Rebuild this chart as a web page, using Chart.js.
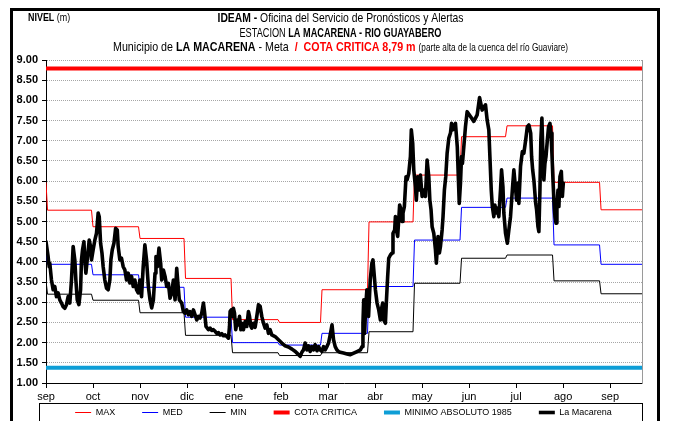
<!DOCTYPE html>
<html>
<head>
<meta charset="utf-8">
<script src="https://cdn.jsdelivr.net/npm/chart.js@4.4.1/dist/chart.umd.min.js"></script>
<style>
  body { margin: 0; background: #fff; }
  canvas { display: block; }
</style>
</head>
<body>
<canvas id="chart" width="675" height="421"></canvas>
<script>
const monthLabels = ['sep', 'oct', 'nov', 'dic', 'ene', 'feb', 'mar', 'abr', 'may', 'jun', 'jul', 'ago', 'sep'];

// monthly reference levels: ago (previous year), then sep ... sep
const maxLevels = [5.97, 5.28, 4.87, 4.58, 3.59, 2.57, 2.50, 3.31, 4.99, 6.15, 7.10, 7.37, 5.97, 5.29];
const medLevels = [4.42, 3.94, 3.68, 3.37, 2.63, 2.00, 1.94, 2.23, 3.39, 4.54, 5.35, 5.58, 4.42, 3.94];
const minLevels = [3.53, 3.20, 3.05, 2.74, 2.18, 1.75, 1.68, 1.75, 2.27, 3.47, 4.09, 4.17, 3.53, 3.21];

const cotaCritica = 8.79;
const minimoAbsoluto = 1.38;

// La Macarena daily readings (days counted from 31 ago)
const obsDays = [
  0, 1.4, 2.1, 2.5, 3.6, 4.7, 5.8, 6.9, 8.0, 9.1, 10.2, 11.3, 12.4, 13.5, 14.6, 15.7, 16.8, 17.9, 19.0, 19.7,
  20.6, 21.7, 22.8, 23.4, 24.1, 25.0, 25.6, 26.3, 27.4, 28.5, 29.4, 30.0, 31.1, 32.2, 33.3, 34.4, 35.1, 36.0, 36.9, 37.7,
  38.8, 39.9, 41.0, 42.1, 42.8, 43.7, 44.8, 45.9, 47.0, 47.6, 48.7, 49.8, 50.9, 52.0, 53.1, 54.2, 55.3, 56.4, 57.5, 58.6,
  59.7, 60.8, 61.9, 63.0, 64.1, 65.2, 66.3, 67.5, 68.6, 69.7, 70.8, 71.9, 72.5, 73.4, 74.5, 75.6, 76.3, 77.4, 78.5, 79.6,
  80.7, 81.8, 82.9, 84.0, 85.1, 86.2, 86.8, 87.9, 89.5, 90.6, 91.7, 92.8, 93.9, 95.0, 96.1, 97.2, 98.3, 99.4, 100.5, 101.6,
  102.7, 103.8, 104.5, 105.5, 107.1, 108.2, 109.3, 110.4, 111.5, 112.6, 113.7, 114.8, 115.9, 117.0, 118.1, 119.2, 120.3, 121.0, 121.4, 122.1,
  122.9, 123.6, 124.3, 125.1, 126.2, 126.9, 127.6, 128.5, 129.1, 130.2, 131.3, 132.4, 133.5, 134.2, 135.1, 135.7, 136.8, 137.9, 139.0, 140.1,
  141.2, 142.3, 143.4, 144.5, 145.6, 146.7, 147.8, 148.9, 151.1, 153.3, 155.5, 157.7, 159.9, 162.2, 164.4, 165.5, 166.6, 167.6, 168.7, 169.8,
  170.9, 172.0, 173.1, 174.2, 175.3, 176.4, 177.5, 178.7, 179.8, 180.8, 181.9, 183.0, 184.1, 185.2, 186.3, 187.4, 188.6, 189.6, 190.7, 191.8,
  192.9, 194.0, 196.2, 198.5, 200.7, 202.9, 205.1, 207.3, 208.4, 209.0, 209.5, 210.1, 210.8, 211.6, 212.7, 213.8, 214.9, 215.6, 216.5, 217.2,
  218.3, 219.4, 220.5, 221.1, 222.0, 222.7, 223.8, 224.4, 225.3, 226.0, 227.1, 228.2, 228.8, 229.9, 230.4, 231.0, 231.9, 233.2, 234.1, 234.8,
  235.4, 236.3, 237.4, 238.1, 239.2, 240.3, 240.9, 241.8, 242.5, 243.6, 244.2, 245.1, 246.0, 246.9, 248.0, 249.1, 250.2, 251.3, 252.4, 253.1,
  253.9, 254.6, 255.7, 256.8, 257.4, 258.5, 259.4, 260.1, 261.2, 261.8, 262.7, 263.6, 264.5, 265.6, 266.7, 267.4, 268.3, 268.9, 270.0, 271.2,
  271.8, 272.5, 273.3, 274.0, 274.6, 276.6, 277.7, 279.9, 282.1, 284.3, 285.9, 287.6, 289.8, 290.9, 292.0, 292.7, 293.6, 294.3, 295.3, 296.0,
  296.9, 297.6, 298.6, 299.7, 300.4, 301.3, 301.9, 303.0, 304.2, 305.2, 306.3, 307.5, 308.5, 309.7, 310.3, 311.2, 311.8, 312.9, 314.1, 315.1,
  316.3, 317.4, 318.4, 319.6, 320.2, 320.9, 321.7, 322.9, 323.5, 324.4, 325.0, 325.7, 326.3, 327.0, 327.7, 328.3, 329.0, 329.7, 330.6, 331.4,
  332.3, 333.0, 333.6, 334.3, 334.9, 335.6, 336.3, 336.9, 337.6, 338.2, 338.9, 339.8, 340.5, 341.1
];
const obsLevels = [
  4.50, 4.13, 3.88, 3.97, 3.55, 3.31, 3.39, 3.14, 3.23, 3.06, 2.98, 2.89, 2.85, 2.94, 3.14, 2.98, 3.55, 4.38, 4.05, 3.55,
  3.06, 2.94, 3.31, 4.05, 4.30, 4.50, 4.05, 3.72, 4.13, 4.54, 4.38, 4.05, 4.30, 4.54, 4.71, 5.21, 5.12, 4.46, 4.22, 3.88,
  3.55, 3.35, 3.31, 3.55, 4.05, 4.30, 4.46, 4.83, 4.79, 4.38, 4.05, 4.09, 3.88, 3.80, 3.55, 3.72, 3.48, 3.64, 3.39, 3.55,
  3.31, 3.23, 3.55, 3.14, 3.88, 4.42, 4.05, 3.39, 3.06, 2.86, 3.06, 3.72, 4.13, 3.88, 4.34, 3.97, 3.55, 3.80, 3.64, 3.39,
  3.47, 3.10, 3.23, 3.55, 3.06, 3.84, 3.55, 3.06, 2.98, 2.77, 2.73, 2.81, 2.69, 2.77, 2.65, 2.81, 2.69, 2.56, 2.65, 2.61,
  2.73, 2.98, 2.77, 2.40, 2.32, 2.36, 2.30, 2.32, 2.28, 2.23, 2.25, 2.19, 2.22, 2.17, 2.19, 2.15, 2.11, 2.40, 2.77, 2.81,
  2.65, 2.85, 2.73, 2.32, 2.56, 2.44, 2.65, 2.32, 2.48, 2.32, 2.52, 2.40, 2.77, 2.65, 2.40, 2.36, 2.48, 2.38, 2.65, 2.94,
  2.90, 2.65, 2.48, 2.36, 2.44, 2.23, 2.32, 2.19, 2.15, 2.07, 1.99, 1.92, 1.89, 1.84, 1.78, 1.74, 1.70, 1.66, 1.76, 1.82,
  1.99, 1.82, 1.92, 1.78, 1.90, 1.82, 1.95, 1.80, 1.90, 1.82, 1.78, 1.90, 1.82, 1.90, 1.99, 2.19, 2.44, 2.07, 1.90, 1.82,
  1.78, 1.76, 1.74, 1.72, 1.70, 1.74, 1.78, 1.82, 1.90, 2.48, 3.06, 2.23, 2.90, 3.31, 2.65, 3.55, 3.97, 4.05, 3.64, 3.31,
  2.98, 2.81, 2.56, 2.81, 2.98, 2.56, 2.48, 2.98, 3.64, 4.09, 4.17, 4.22, 4.71, 4.79, 5.12, 4.79, 4.63, 5.41, 5.29, 5.00,
  5.21, 5.37, 6.11, 6.03, 6.19, 6.61, 7.27, 6.94, 6.28, 5.86, 5.53, 6.11, 5.78, 6.15, 5.62, 5.78, 5.62, 6.52, 6.11, 5.53,
  5.29, 4.87, 4.71, 4.30, 3.97, 4.63, 4.22, 4.38, 4.79, 5.12, 5.78, 6.11, 6.69, 7.06, 7.19, 7.43, 7.27, 7.35, 7.43, 6.85,
  6.19, 5.45, 5.95, 6.61, 6.44, 7.35, 7.72, 7.60, 7.48, 7.64, 8.07, 7.76, 7.89, 7.51, 7.27, 6.61, 5.78, 5.37, 5.12, 5.41,
  5.21, 5.33, 5.12, 5.78, 6.28, 5.86, 5.21, 4.71, 4.46, 4.79, 5.12, 5.78, 6.28, 5.78, 5.53, 5.95, 5.45, 6.36, 6.73, 6.69,
  7.02, 7.35, 7.39, 7.19, 6.61, 6.28, 6.03, 5.45, 5.29, 4.87, 4.75, 5.78, 7.02, 7.56, 6.61, 6.03, 6.44, 6.61, 7.02, 7.35,
  7.43, 7.19, 6.69, 6.03, 5.53, 5.12, 4.96, 5.37, 5.78, 5.37, 6.11, 6.24, 5.62, 5.95
];

const xMax = 393;
const sans = '"Liberation Sans", Arial, sans-serif';

// first day of each month, counted from 31 ago
const dayZero = Date.UTC(2013, 7, 31);
const monthStart = [];
for (let i = 0; i <= 12; i++) {
  monthStart.push((Date.UTC(2013, 8 + i, 1) - dayZero) / 86400000);
}

// monthly value held flat through each month
function monthlySteps(levels) {
  const pts = [{ x: 0, y: levels[0] }];
  for (let i = 0; i <= 12; i++) {
    const end = i < 12 ? monthStart[i + 1] - 1 : xMax;
    pts.push({ x: monthStart[i], y: levels[i + 1] });
    pts.push({ x: end, y: levels[i + 1] });
  }
  return pts;
}

function flat(v) {
  return [{ x: 0, y: v }, { x: xMax, y: v }];
}

const obsPoints = obsDays.map((d, i) => ({ x: d, y: obsLevels[i] }));

// header lines: [text, weight, colour, size]; width = drawn width of the squeezed line
const headerLines = [
  { y: 18, width: 246, parts: [['IDEAM - ', 'bold', '#000', 13], ['Oficina del Servicio de Pronósticos y Alertas', '', '#000', 13]] },
  { y: 33, width: 202, parts: [['ESTACION ', '', '#000', 13], ['LA MACARENA - RIO GUAYABERO', 'bold', '#000', 13]] },
  { y: 47, width: 455, parts: [['Municipio de ', '', '#000', 13], ['LA MACARENA', 'bold', '#000', 13], [' - Meta  ', '', '#000', 13],
                   ['/  COTA CRITICA 8,79 m ', 'bold', '#ff0000', 13], ['(parte alta de la cuenca del río Guaviare)', '', '#000', 10]] }
];

const framePlugin = {
  id: 'frame',
  afterLayout(chart) {
    // legend row sits lower, inside its own box
    chart.legend.top = 381;
    chart.legend.left = 6;
    chart.legend.right = 681;
  },
  beforeDraw(chart) {
    const ctx = chart.ctx;
    ctx.save();
    ctx.fillStyle = '#fff';
    ctx.fillRect(0, 0, chart.width, chart.height);
    ctx.restore();
  },
  afterDraw(chart) {
    const ctx = chart.ctx;
    const area = chart.chartArea;
    ctx.save();
    // outer frame
    ctx.strokeStyle = '#000';
    ctx.lineWidth = 3;
    ctx.strokeRect(11.5, 9.5, 647, 440);
    // legend frame
    ctx.lineWidth = 1;
    ctx.strokeRect(area.left - 6.5, 403.5, area.right - area.left + 7, 40);

    ctx.textBaseline = 'middle';
    ctx.fillStyle = '#000';
    ctx.save();
    ctx.translate(28, 18);
    ctx.scale(0.85, 1);
    ctx.font = 'bold 10.5px ' + sans;
    ctx.fillText('NIVEL', 0, 0);
    const w = ctx.measureText('NIVEL ').width;
    ctx.font = '10.5px ' + sans;
    ctx.fillText('(m)', w, 0);
    ctx.restore();

    const cx = 340.5;
    headerLines.forEach(line => {
      let total = 0;
      line.parts.forEach(p => {
        ctx.font = p[1] + ' ' + p[3] + 'px ' + sans;
        total += ctx.measureText(p[0]).width;
      });
      const k = line.width / total;
      ctx.save();
      ctx.translate(cx - line.width / 2, line.y);
      ctx.scale(k, 1);
      let x = 0;
      line.parts.forEach(p => {
        ctx.font = p[1] + ' ' + p[3] + 'px ' + sans;
        ctx.fillStyle = p[2];
        ctx.fillText(p[0], x, p[3] < 12 ? 1 : 0);
        x += ctx.measureText(p[0]).width;
      });
      ctx.restore();
    });
    ctx.restore();
  }
};

const ctx = document.getElementById('chart');

new Chart(ctx, {
  type: 'line',
  data: {
    datasets: [
      { label: 'MAX', data: monthlySteps(maxLevels), borderColor: '#ff0000', borderWidth: 1, order: 1 },
      { label: 'MED', data: monthlySteps(medLevels), borderColor: '#0000ff', borderWidth: 1, order: 1 },
      { label: 'MIN', data: monthlySteps(minLevels), borderColor: '#000000', borderWidth: 1, order: 1 },
      { label: 'COTA CRITICA', data: flat(cotaCritica), borderColor: '#ff0000', borderWidth: 4, order: 1 },
      { label: 'MINIMO ABSOLUTO 1985', data: flat(minimoAbsoluto), borderColor: '#0e9ed6', borderWidth: 4, order: 1 },
      { label: 'La Macarena', data: obsPoints, borderColor: '#000000', borderWidth: 3.6, order: 0,
        borderJoinStyle: 'round', borderCapStyle: 'round' }
    ].map(ds => Object.assign({ pointRadius: 0, pointStyle: 'line', pointBorderWidth: ds.borderWidth,
                                tension: 0, fill: false, backgroundColor: ds.borderColor }, ds))
  },
  options: {
    responsive: false,
    animation: false,
    devicePixelRatio: 1,
    layout: { padding: { top: 60, left: 0, right: 0, bottom: 0 } },
    plugins: {
      title: { display: false },
      tooltip: { enabled: false },
      legend: {
        position: 'bottom',
        maxHeight: 16,
        labels: {
          usePointStyle: true,
          pointStyleWidth: 16,
          padding: 27,
          color: '#000',
          font: { family: sans, size: 9 },
          sort: (a, b) => a.datasetIndex - b.datasetIndex
        }
      }
    },
    scales: {
      x: {
        type: 'linear',
        min: 0,
        max: xMax,
        afterFit: s => { s.height = 22; },
        afterBuildTicks: s => { s.ticks = monthLabels.map((m, i) => ({ value: i * 31 })); },
        ticks: {
          color: '#000',
          padding: 2,
          maxRotation: 0,
          autoSkip: false,
          font: { family: sans, size: 11 },
          callback: (v, i) => monthLabels[i]
        },
        grid: { drawOnChartArea: false, drawTicks: true, tickLength: 5, tickColor: '#000' },
        border: { color: '#000', width: 1 }
      },
      y: {
        min: 1,
        max: 9,
        afterFit: s => { s.width = 46; },
        ticks: {
          stepSize: 0.5,
          color: '#000',
          padding: 4,
          font: { family: sans, size: 11, weight: 'bold' },
          callback: v => v.toFixed(2)
        },
        grid: {
          color: c => (c.tick && c.tick.value === 1 ? 'rgba(0,0,0,0)' : '#a6a6a6'),
          tickColor: '#000',
          tickLength: 4,
          lineWidth: 1
        },
        border: { color: '#000', width: 1, dash: [1, 1] }
      },
      y2: {
        position: 'right',
        afterFit: s => { s.width = 33; },
        ticks: { display: false },
        grid: { drawOnChartArea: false, drawTicks: false },
        border: { color: '#9a9a9a', width: 1 }
      }
    }
  },
  plugins: [framePlugin]
});
</script>
</body>
</html>
